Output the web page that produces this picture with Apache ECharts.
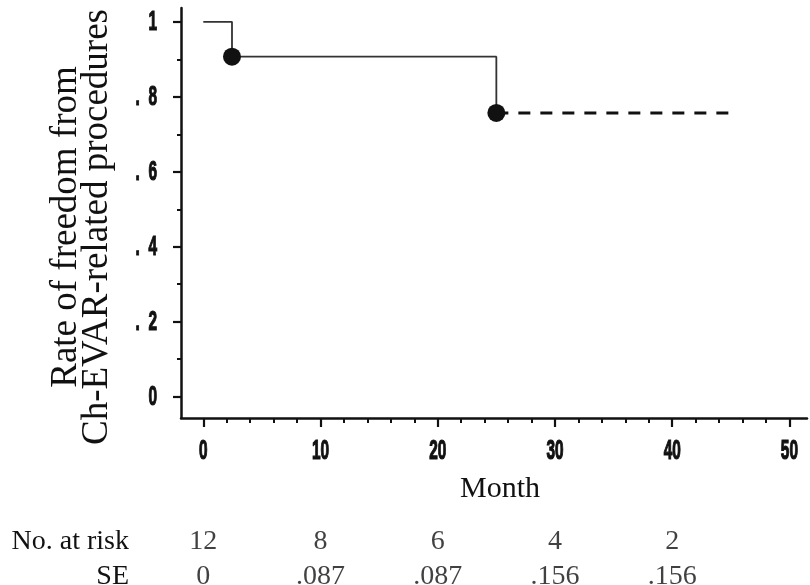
<!DOCTYPE html>
<html>
<head>
<meta charset="utf-8">
<script src="https://cdn.jsdelivr.net/npm/echarts@6/dist/echarts.min.js"></script>
<style>
  html, body { margin: 0; padding: 0; background: #fff; }
  #chart { width: 810px; height: 585px; }
</style>
</head>
<body>
<div id="chart"></div>
<script>
// ---- data ----
const stepMonths = [0, 2.45, 25];
const stepRates = [1, 0.907, 0.757];
const eventMonths = [2.45, 25];
const eventRates = [0.907, 0.757];
const tailMonths = [25, 45.3];
const tailRates = [0.757, 0.757];
const xTicks = [0, 10, 20, 30, 40, 50];
const xTickLabels = ['0', '10', '20', '30', '40', '50'];
const xMinorTicks = [2, 4, 6, 8, 12, 14, 16, 18, 22, 24, 26, 28, 32, 34, 36, 38, 42, 44, 46, 48];
const yTicks = [0, 0.2, 0.4, 0.6, 0.8, 1];
const yTickLabels = ['0', '.  2', '.  4', '.  6', '.  8', '1'];
const yMinorTicks = [0.1, 0.3, 0.5, 0.7, 0.9];
const tableMonths = [0, 10, 20, 30, 40];
const atRisk = ['12', '8', '6', '4', '2'];
const seValues = ['0', '.087', '.087', '.156', '.156'];
const rowLabels = ['No. at risk', 'SE'];

const X_MIN = -1.9, X_MAX = 51.5, Y_MIN = -0.057, Y_MAX = 1.037;
const tickFont = '"Liberation Sans", Arial, sans-serif';
const serif = '"Liberation Serif", "DejaVu Serif", serif';

const pair = (xs, ys) => xs.map((x, i) => [x, ys[i]]);
const tableData = [];
tableMonths.forEach((m, i) => {
  tableData.push([m, rowLabels[0], atRisk[i]]);
  tableData.push([m, rowLabels[1], seValues[i]]);
});

const chart = echarts.init(document.getElementById('chart'));
chart.setOption({
  animation: false,
  backgroundColor: '#fff',
  grid: [
    { left: 181, top: 8, width: 626, height: 410, outerBoundsMode: 'none', containLabel: false },
    { left: 181, top: 524, width: 626, height: 70, outerBoundsMode: 'none', containLabel: false }
  ],
  xAxis: [
    {
      gridIndex: 0, type: 'value', min: X_MIN, max: X_MAX,
      name: 'Month', nameLocation: 'middle', nameGap: 56,
      nameTextStyle: { fontFamily: serif, fontSize: 30, color: '#111', padding: [0, 0, 0, 12] },
      axisLine: { show: true, onZero: false, lineStyle: { color: '#111', width: 2.5 } },
      axisTick: { show: true, customValues: xTicks, length: 9, lineStyle: { color: '#111', width: 2.2 } },
      axisLabel: { show: false },
      splitLine: { show: false }
    },
    {
      gridIndex: 0, type: 'value', min: X_MIN, max: X_MAX, position: 'bottom',
      axisLine: { show: false, onZero: false },
      axisTick: { show: true, customValues: xMinorTicks, length: 5, lineStyle: { color: '#111', width: 2 } },
      axisLabel: { show: false },
      splitLine: { show: false }
    },
    {
      gridIndex: 1, type: 'value', min: X_MIN, max: X_MAX, show: false
    }
  ],
  yAxis: [
    {
      gridIndex: 0, type: 'value', min: Y_MIN, max: Y_MAX,
      name: 'Rate of freedom from\nCh-EVAR-related procedures',
      nameLocation: 'middle', nameRotate: 90, nameGap: 68,
      nameTextStyle: { fontFamily: serif, fontSize: 37, lineHeight: 31, color: '#111', padding: [0, 28, 0, 0] },
      axisLine: { show: true, onZero: false, lineStyle: { color: '#111', width: 2.5 } },
      axisTick: { show: true, customValues: yTicks, length: 8, lineStyle: { color: '#111', width: 2.2 } },
      axisLabel: { show: false },
      splitLine: { show: false }
    },
    {
      gridIndex: 0, type: 'value', min: Y_MIN, max: Y_MAX, position: 'left',
      axisLine: { show: false, onZero: false },
      axisTick: { show: true, customValues: yMinorTicks, length: 4, lineStyle: { color: '#111', width: 2 } },
      axisLabel: { show: false },
      splitLine: { show: false }
    },
    {
      gridIndex: 1, type: 'category', data: rowLabels, inverse: true,
      axisLine: { show: false }, axisTick: { show: false }, splitLine: { show: false },
      axisLabel: { interval: 0, margin: 52, fontFamily: serif, fontSize: 28, color: '#111' }
    }
  ],
  series: [
    {
      type: 'line', xAxisIndex: 0, yAxisIndex: 0, step: 'end', symbol: 'none',
      data: pair(stepMonths, stepRates),
      lineStyle: { color: '#333', width: 1.8 }
    },
    {
      type: 'line', xAxisIndex: 0, yAxisIndex: 0, symbol: 'none',
      data: pair(tailMonths, tailRates),
      lineStyle: { color: '#111', width: 3, type: [12, 10] }
    },
    {
      type: 'scatter', xAxisIndex: 0, yAxisIndex: 0, symbol: 'circle', symbolSize: 18,
      data: pair(eventMonths, eventRates),
      itemStyle: { color: '#111', opacity: 1 }, z: 5
    },
    {
      type: 'scatter', xAxisIndex: 2, yAxisIndex: 2, symbolSize: 0,
      data: tableData,
      label: { show: true, position: 'inside', formatter: p => p.value[2], fontFamily: serif, fontSize: 28, color: '#111' }
    }
  ]
});

// Condensed bold tick labels, positioned through the axes' own scales
const axisX0 = chart.convertToPixel({ xAxisIndex: 0 }, X_MIN);
const axisY0 = chart.convertToPixel({ yAxisIndex: 0 }, Y_MIN);
const tickStyle = {
  fontSize: 27, fontWeight: 'bold', fontFamily: tickFont, fill: '#111',
  stroke: '#111', lineWidth: 1.2, verticalAlign: 'middle'
};
const graphics = [];
xTicks.forEach((v, i) => {
  graphics.push({
    type: 'text', x: chart.convertToPixel({ xAxisIndex: 0 }, v), y: axisY0 + 34,
    scaleX: 0.57, silent: true,
    style: Object.assign({ text: xTickLabels[i], align: 'center' }, tickStyle)
  });
});
yTicks.forEach((v, i) => {
  graphics.push({
    type: 'text', x: axisX0 - 24, y: chart.convertToPixel({ yAxisIndex: 0 }, v) + 1,
    scaleX: 0.57, silent: true,
    style: Object.assign({ text: yTickLabels[i], align: 'right' }, tickStyle)
  });
});
chart.setOption({ graphic: graphics });
</script>
</body>
</html>
